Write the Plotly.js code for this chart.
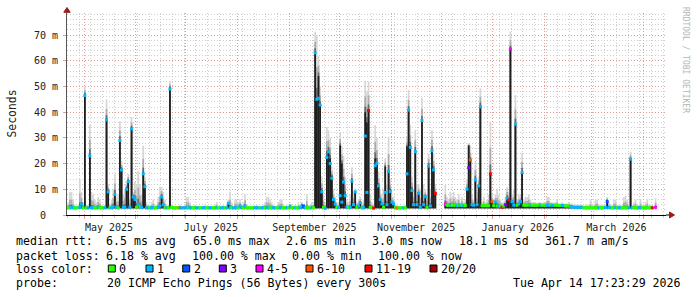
<!DOCTYPE html>
<html><head><meta charset="utf-8">
<script src="https://cdn.plot.ly/plotly-3.0.1.min.js"></script>
<style>html,body{margin:0;padding:0;background:#fff}#chart{width:697px;height:297px}</style>
</head><body><div id="chart"></div>
<script>
// ---- data (one value per day, starting 2025-04-21) ----
const firstDay = [2025, 3, 21];
const minRtt = 2.6; // "2.6 ms min"
const median = [
2.8,2.8,2.9,2.8,2.8,2.8,2.9,2.9,4.2,2.8,
46.5,2.8,2.8,23,2.8,2.8,2.8,2.8,3,2.8,
2.8,2.8,2.8,37,9,2.8,2.8,3.2,8,3,
2.8,29,17.5,3,3,10,13,3,33.5,7,
6,3,4,3.2,3,16,11,2.8,2.8,2.8,
2.8,2.8,2.8,2.8,3,3.5,7,4,2.8,2.8,
2.8,49,3,2.8,2.8,2.8,2.8,2.8,2.8,2.8,
2.8,2.8,2.8,2.8,2.8,2.8,2.8,2.8,2.8,2.8,
2.8,2.8,2.8,2.8,2.8,2.8,2.8,2.8,2.8,2.8,
2.8,2.8,2.8,2.8,2.8,2.8,4.5,2.8,2.8,2.8,
2.8,2.8,2.8,3.5,2.8,2.8,3.5,2.8,2.8,2.8,
2.8,2.8,2.8,2.8,2.8,2.8,2.8,2.8,2.8,2.8,
2.8,2.8,2.8,2.8,2.8,2.8,2.8,2.8,2.8,2.8,
2.8,2.8,2.8,3.5,2.8,2.8,2.8,2.8,2.8,2.8,
3.5,3.5,2.8,2.8,2.8,2.8,2.8,2.8,63.1,45,
45.4,42.8,9,3,2.6,22.4,24.6,20,14.3,6,
4.2,3,2.9,7.5,5,12.8,7.5,3,2.9,3,
13.2,4,9,3,3.5,4.8,2.8,2.8,30.7,8.8,
40.6,3,2.8,2.7,19.2,20.1,11.3,6,4.3,3,
8.8,4,16.9,9.1,5,4.3,2.8,2.7,2.8,2.8,
2.8,2.8,2.8,16,40.8,26.3,9.5,4,24.6,4,
8.4,3,36.7,4,7.1,3,19,3.5,25,17.5,
8.4,null,null,null,null,null,4.3,3.8,3.8,3.7,
3.8,3.8,3.9,3.6,3.8,3.7,3.8,3.6,3.7,10,
18.4,21.4,4,3.8,13.6,4,11.3,42.1,3.6,3.6,
3.6,3.6,3.6,16,5.2,3.6,5,3.5,3.5,3.5,
3,3.5,4,6.5,5.8,64.6,5.2,3.8,35.3,3.8,
4.3,5.2,16.6,3.8,3.8,3.8,3.9,3.8,3.8,3.8,
3.8,3.8,3.9,3.8,3.8,3.8,3.8,3.8,3.8,3.9,
3.8,3.8,3.8,3.8,3.7,3.7,3.7,3.6,3.5,3.5,
3.5,3.3,3.2,3,3,3,3,3,3,2.8,
2.8,2.8,2.8,2.8,2.8,2.8,2.8,2.8,2.8,2.8,
2.8,2.8,2.9,5.2,3,2.8,2.8,2.8,2.8,2.8,
2.8,2.8,2.8,2.8,2.8,2.8,2.8,21.7,2.8,2.8,
2.8,2.8,2.8,2.8,2.8,2.8,2.8,2.8,2.8,2.8,
2.8,null,3,null,null,null,null,null,null];

// loss class per day: 0="0",1="1",2="2",3="3",4="4-5",5="6-10",6="11-19",7="20/20"
const lossClass = [
0,0,1,1,0,0,0,1,1,0,
1,0,1,1,1,1,0,0,1,0,
0,0,1,1,1,0,1,1,1,1,
0,1,1,1,1,1,1,1,1,1,
1,0,1,0,1,1,1,1,1,0,
1,1,0,0,1,1,1,1,0,1,
0,1,0,0,0,0,0,5,1,1,
1,1,0,1,1,0,0,1,1,0,
0,1,1,0,0,1,1,0,0,1,
0,0,1,1,0,1,1,1,0,1,
1,1,0,1,1,0,1,0,0,0,
0,0,1,1,1,0,1,1,0,1,
1,0,0,1,1,0,0,1,1,0,
0,1,0,1,0,0,1,0,0,1,
1,2,1,0,0,0,1,0,1,1,
1,1,1,0,1,1,1,1,1,1,
1,0,1,1,1,1,1,1,0,1,
1,1,1,0,1,1,0,1,1,1,
6,0,0,6,1,1,1,1,1,0,
1,1,1,1,1,1,0,5,0,0,
0,1,0,1,1,1,1,1,1,1,
1,1,1,1,1,0,1,1,1,1,
6,null,null,null,null,null,4,0,0,1,
0,0,0,1,0,1,0,1,0,1,
3,5,1,1,1,1,1,1,0,0,
0,0,0,6,5,0,1,0,1,0,
6,0,3,1,6,4,1,1,1,0,
1,1,1,0,0,0,0,1,0,0,
0,0,0,1,0,0,0,1,1,0,
1,1,0,0,0,0,1,1,0,0,
0,1,1,1,1,1,1,1,1,0,
0,0,0,0,0,0,0,0,1,0,
0,0,1,2,1,1,0,0,1,0,
1,1,0,0,0,0,1,1,1,0,
0,0,1,1,0,0,0,0,0,0,
6,null,4,null,null,null,null,null,null];

// top of the dense (dark) smoke per day
const coreTop = [
2.8,2.8,2.9,2.8,2.8,2.8,2.9,2.9,4.2,2.8,
47,2.8,2.8,23.5,2.8,2.8,2.8,2.8,3,2.8,
2.8,2.8,2.8,37.5,9.5,2.8,2.8,3.2,8.5,3,
2.8,29.5,18,3,3,10.5,13.5,3,34,7.5,
6.5,3,4,3.2,3,16.5,11.5,2.8,2.8,2.8,
2.8,2.8,2.8,2.8,3,3.5,7.5,4,2.8,2.8,
2.8,49.5,3,2.8,2.8,2.8,2.8,2.8,2.8,2.8,
2.8,2.8,2.8,2.8,2.8,2.8,2.8,2.8,2.8,2.8,
2.8,2.8,2.8,2.8,2.8,2.8,2.8,2.8,2.8,2.8,
2.8,2.8,2.8,2.8,2.8,2.8,4.5,2.8,2.8,2.8,
2.8,2.8,2.8,3.5,2.8,2.8,3.5,2.8,2.8,2.8,
2.8,2.8,2.8,2.8,2.8,2.8,2.8,2.8,2.8,2.8,
2.8,2.8,2.8,2.8,2.8,2.8,2.8,2.8,2.8,2.8,
2.8,2.8,2.8,3.5,2.8,2.8,2.8,2.8,2.8,2.8,
4,3.5,2.8,2.8,2.8,2.8,2.8,2.8,63.5,45,
54,43,9.5,3,2.6,23,25,22,15,6,
4.2,3,2.9,27,20,13,8,3,2.9,3,
13.5,4,9,3,3.5,5,2.8,2.8,40,36,
41,3,2.8,2.7,22,20.5,11.5,6,4.3,3,
18.8,4,17,9.5,5,4.3,2.8,2.7,2.8,2.8,
2.8,2.8,2.8,26.6,41,27,10,4,25,4,
8.5,3,37,4,7.5,3,19.5,3.5,25.5,18,
8.5,null,null,null,null,null,4.3,3.8,3.8,3.7,
3.8,3.8,3.9,3.6,3.8,3.7,3.8,3.6,3.7,10,
27,21.5,4,3.8,14,4,11.5,42.5,3.6,3.6,
3.6,3.6,3.6,16,5.2,3.6,5,3.5,3.5,3.5,
3,3.5,4,7,6,64.6,5.2,3.8,35.5,3.8,
4.3,5.2,17,3.8,3.8,3.8,3.9,3.8,3.8,3.8,
3.8,3.8,3.9,3.8,3.8,3.8,3.8,3.8,3.8,3.9,
3.8,3.8,3.8,3.8,3.7,3.7,3.7,3.6,3.5,3.5,
3.5,3.3,3.2,3,3,3,3,3,3,2.8,
2.8,2.8,2.8,2.8,2.8,2.8,2.8,2.8,2.8,2.8,
2.8,2.8,2.9,5.8,3,2.8,2.8,2.8,2.8,2.8,
2.8,2.8,2.8,2.8,2.8,2.8,2.8,22,2.8,2.8,
2.8,2.8,2.8,2.8,2.8,2.8,2.8,2.8,2.8,2.8,
2.8,null,3,null,null,null,null,null,null];

// top of the light smoke (slowest ping) per day
const smokeTop = [
5,9,9,6,4,3.5,4,14,9,5,
50,4,4,35,9,8,6,5,7,6,
4,3.5,4,45,12,4,6,10,16,7,
8,36.5,21,8,10,13,16,6,38,9,
13,12,17,12,8,27,15,5,4,4,
5,6,4,4,7,11,11,9,6,4,
4,52,4,3.5,3.5,3.5,3.5,4,3.5,3.5,
4,7,7,5,3.5,3.5,4,3.5,3.5,3.5,
3.5,3.5,4,3.5,3.5,3.5,3.5,3.5,4,5,
3.5,3.5,3.5,4,3.5,4,6,9,5,3.5,
6,6,5,6,4,5,8,4,3.5,3.5,
3.5,3.5,3.5,4,3.5,3.5,3.5,4,5,7,
7,6,5,4,3.5,3.5,5,6,6,4,
3.5,4,3.5,4,3.5,3.5,4,3.5,5,4,
5,4,4,8,4,4,5,5,71.3,70,
62,50,15,8,5,34.3,33,30,19,10,
7,5,5,32,27,23,15,6,5,8,
18.5,9,10.4,5,6,7,5,6,52.2,48,
52,8,5,4,35,30,17,10,8,10,
22,12,30.5,14,8,7,4,4,3.5,3.5,
3.5,3.5,4,30,48.6,35,15,10,33,12,
12,10,45.6,12,10,8,24,10,33,24,
12,null,null,null,null,null,11.7,7,6,9,
7,9,7,6,8,5,7,5,6,14,
28,27,8,6,21,9,15,49.3,5,7,
5,6,8,36.3,8,6,8,10,8,6,
5,5,7,11,9,71.3,8,10,46.7,6,
8,8,24.2,6,7,7,8,6,5,5,
5,4.5,5,5,4.5,5,5,7,7,5,
5,4.5,5,6,4.5,4.5,5,4.5,4.5,4.5,
5,4.5,4.5,4,4,4,4,4,4,3.5,
4,4,4,5.8,4,4,5.8,6,4,4,
4,4,4,7,5,4,4,6,6,4,
4,4,4,7,7.5,6,4,24.6,4,5,
6,4,4,6,4,4,5,6,4,4,
4,null,6.5,null,null,null,null,null,null];

const lossLabels = ['0','1','2','3','4-5','6-10','11-19','20/20'];
const lossColors = ['#26ff00','#00b8ff','#0059ff','#7e00ff','#ff00ff','#ff5500','#ff0000','#a10000'];
const yTickVals = [0,10,20,30,40,50,60,70];
const yTickText = ['0\u00a0\u00a0','10 m','20 m','30 m','40 m','50 m','60 m','70 m'];
const monthStarts = ['2025-05-01','2025-06-01','2025-07-01','2025-08-01','2025-09-01','2025-10-01','2025-11-01','2025-12-01','2026-01-01','2026-02-01','2026-03-01','2026-04-01'];
const monthText = ['May 2025','','July 2025','','September 2025','','November 2025','','January 2026','','March 2026',''];
const rttItems = ['median rtt:','6.5 ms avg','65.0 ms max','2.6 ms min','3.0 ms now','18.1 ms sd','361.7 m am/s'];
const lossItems = ['packet loss:','6.18 % avg','100.00 % max','0.00 % min','100.00 % now'];
const probeItems = ['probe:','20 ICMP Echo Pings (56 Bytes) every 300s'];
const stampText = 'Tue Apr 14 17:23:29 2026';

// ---- build ----
const dates = median.map((_, i) => {
  const d = new Date(Date.UTC(firstDay[0], firstDay[1], firstDay[2] + i, 12));
  return d.toISOString().slice(0, 10) + ' 12:00';
});
const DAY = 86400000;
const blend = f => coreTop.map((c, i) => c == null ? null : c + f * (smokeTop[i] - c));
function layer(top, color) {
  return {type:'bar', x:dates, base: top.map(v => v == null ? null : minRtt),
    y: top.map(v => v == null ? null : v - minRtt), width: DAY,
    marker:{color:color, line:{width:0}}, hoverinfo:'skip', showlegend:false};
}
const traces = [
  layer(smokeTop, '#d6d6d6'),
  layer(blend(0.5), '#ababab'),
  layer(blend(0.18), '#6a6a6a'),
  layer(coreTop, '#1e1e1e'),
  {type:'scatter', mode:'markers', x:dates, y:median, showlegend:false, hoverinfo:'skip',
   marker:{symbol:'square', size:3, line:{width:0},
     color: lossClass.map(l => l == null ? 'rgba(0,0,0,0)' : lossColors[l])}}
];

const PL = 67, PT = 13, PW = 599, PH = 202;
const px = x => (x - PL) / PW;
const py = y => (PT + PH - y) / PH;
const nb = s => s.replace(/ /g, '\u00a0');
const mono = (size, color) => ({family:'DejaVu Sans Mono, monospace', size:size, color:color});
const TXT = 11.6;
const annotations = [];
function txt(s, x, y, anchor) {
  annotations.push({text:nb(s), xref:'paper', yref:'paper', x:px(x), y:py(y), xanchor:anchor || 'left',
    yanchor:'middle', showarrow:false, borderpad:0, borderwidth:0, font:mono(TXT, '#000')});
}
annotations.push({text:'Seconds', xref:'paper', yref:'paper', x:px(11), y:py(113.5), textangle:-90,
  showarrow:false, xanchor:'center', yanchor:'middle', font:mono(11.4,'#222')});
annotations.push({text:'RRDTOOL / TOBI OETIKER', xref:'paper', yref:'paper', x:px(686), y:py(60), textangle:90,
  showarrow:false, xanchor:'center', yanchor:'middle', font:mono(8,'#b5b5b5')});
const rttX = [16, 106.2, 192.8, 286.2, 372.2, 458.5, 544.5];
rttItems.forEach((s, k) => txt(s, rttX[k], 241.5));
const lossX = [16, 106.2, 192.2, 292.2, 378];
lossItems.forEach((s, k) => txt(s, lossX[k], 255.5));
txt('loss color:', 16, 269);
const probeX = [16, 107.2];
probeItems.forEach((s, k) => txt(s, probeX[k], 283));
txt(stampText, 681, 283, 'right');

const boxLeft = [108.3, 146, 182.7, 219.3, 256, 306, 365, 430];
const shapes = [];
lossLabels.forEach((lab, k) => {
  shapes.push({type:'rect', xref:'paper', yref:'paper', x0:px(boxLeft[k]), x1:px(boxLeft[k] + 7),
    y0:py(272), y1:py(265), fillcolor:lossColors[k], line:{color:'#000', width:1}});
  txt(lab, boxLeft[k] + 11, 269);
});
// axis arrows
shapes.push({type:'path', xref:'paper', yref:'paper', path:`M ${px(63.8)},${py(12.3)} L ${px(70.2)},${py(12.3)} L ${px(67)},${py(7.5)} Z`,
  fillcolor:'#9a1c1c', line:{color:'#9a1c1c', width:1}});
shapes.push({type:'line', xref:'paper', yref:'paper', x0:1, x1:px(669.5), y0:0, y1:0, line:{color:'#000', width:1}});
shapes.push({type:'path', xref:'paper', yref:'paper', path:`M ${px(669.5)},${py(212)} L ${px(674.5)},${py(215)} L ${px(669.5)},${py(218)} Z`,
  fillcolor:'#9a1c1c', line:{color:'#9a1c1c', width:1}});

const majorGrid = '#e59a9a', minorGrid = '#cdcdcd', dots = '1px,2px';
const layout = {
  width:697, height:297, margin:{l:PL, r:697 - PL - PW, t:PT, b:297 - PT - PH},
  paper_bgcolor:'#fff', plot_bgcolor:'#fff', barmode:'overlay', showlegend:false,
  xaxis:{type:'date', range:['2025-04-20 19:30', '2026-04-14 17:23'], fixedrange:true,
    tickmode:'array', tickvals:monthStarts, ticktext:monthText, ticklabelshift:25,
    showgrid:true, gridcolor:majorGrid, griddash:dots, gridwidth:1,
    ticks:'outside', ticklen:3, tickcolor:majorGrid,
    minor:{tickmode:'linear', tick0:'2025-04-28', dtick:7 * DAY, showgrid:true, gridcolor:minorGrid, griddash:dots, ticks:'outside', ticklen:2, tickcolor:minorGrid},
    showline:true, linecolor:'#000', linewidth:1, zeroline:false,
    tickfont:mono(10,'#222')},
  yaxis:{range:[0, 78.57], fixedrange:true, tickmode:'array', tickvals:yTickVals, ticktext:yTickText,
    showgrid:true, gridcolor:majorGrid, griddash:dots, gridwidth:1,
    minor:{tickmode:'linear', tick0:0, dtick:2, showgrid:true, gridcolor:minorGrid, griddash:dots},
    ticks:'outside', ticklen:3, tickcolor:majorGrid, ticklabelstandoff:3,
    showline:true, linecolor:'#555', linewidth:1, zeroline:false,
    tickfont:mono(10,'#222')},
  annotations:annotations, shapes:shapes
};
Plotly.newPlot('chart', traces, layout, {staticPlot:true, displayModeBar:false});
</script>
</body></html>
